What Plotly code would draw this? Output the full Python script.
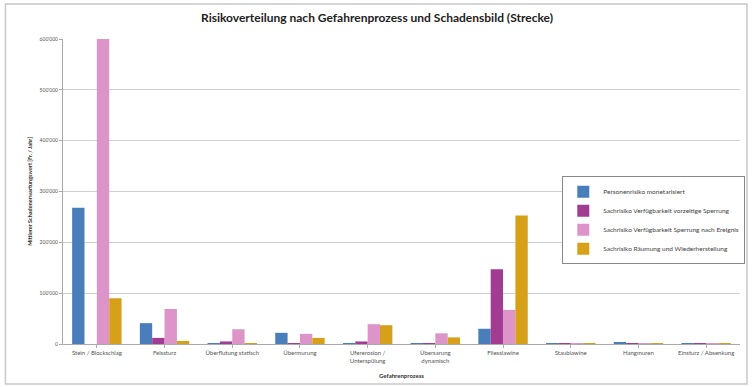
import plotly.graph_objects as go

categories = ["Stein / Blockschlag", "Felssturz", "Überflutung statisch", "Übermurung",
              "Ufererosion /<br>Unterspülung", "Übersarung<br>dynamisch", "Fliesslawine",
              "Staublawine", "Hangmuren", "Einsturz / Absenkung"]

series_names = ["Personenrisiko monetarisiert",
                "Sachrisiko Verfügbarkeit vorzeitige Sperrung",
                "Sachrisiko Verfügbarkeit Sperrung nach Ereignis",
                "Sachrisiko Räumung und Wiederherstellung"]

personen = [268000, 41000, 1000, 22000, 1000, 1000, 30000, 500, 2000, 300]
vorzeitig = [0, 12000, 5000, 500, 5000, 1000, 147000, 300, 500, 200]
nach_ereignis = [600000, 69000, 29000, 20000, 39000, 21000, 67000, 500, 300, 200]
raeumung = [90000, 6000, 500, 12000, 37000, 13000, 253000, 300, 300, 200]

colors = ["#4a7ebb", "#a23b92", "#dc94c9", "#d6a019"]

y_ticks = [0, 100000, 200000, 300000, 400000, 500000, 600000]
y_tick_labels = ["0", "100'000", "200'000", "300'000", "400'000", "500'000", "600'000"]

fig = go.Figure()
for name, vals, col in zip(series_names, [personen, vorzeitig, nach_ereignis, raeumung], colors):
    fig.add_trace(go.Bar(x=categories, y=vals, name=name, marker_color=col,
                         marker_line_width=0))

font_family = "Lato, Open Sans, sans-serif"
fig.update_layout(
    width=754, height=387,
    margin=dict(l=63, r=9, t=39, b=43),
    paper_bgcolor="white", plot_bgcolor="white",
    barmode="group", bargap=0.27, bargroupgap=0.0,
    font=dict(family=font_family, size=6, color="#555555"),
    title=dict(text="<b>Risikoverteilung nach Gefahrenprozess und Schadensbild (Strecke)</b>",
               x=0.5, xanchor="center", y=0.955, yanchor="middle",
               font=dict(size=12, color="#222222", family=font_family)),
    legend=dict(x=0.7375, y=0.55, xanchor="left", yanchor="top",
                bgcolor="white", bordercolor="#888888", borderwidth=1,
                font=dict(size=6.5, color="#444444"), itemwidth=30,
                tracegroupgap=0),
    xaxis=dict(showline=True, linecolor="#aaaaaa", linewidth=1,
               ticks="outside", ticklen=3, tickcolor="#aaaaaa",
               tickfont=dict(size=6, color="#555555"),
               title=dict(text="<b>Gefahrenprozess</b>", standoff=10,
                          font=dict(size=6, color="#333333"))),
    yaxis=dict(range=[0, 600000], tickvals=y_ticks, ticktext=y_tick_labels,
               showgrid=True, gridcolor="#d0d0d0", gridwidth=1,
               showline=True, linecolor="#aaaaaa", ticks="outside", ticklen=3,
               tickcolor="#aaaaaa", zeroline=False,
               tickfont=dict(size=5, color="#555555"),
               title=dict(text="<b>Mittlerer Schadenerwartungswert [Fr. / Jahr]</b>",
                          standoff=6, font=dict(size=5.5, color="#333333"))),
    shapes=[dict(type="rect", xref="paper", yref="paper",
                 x0=-0.085, x1=1.0103, y0=-0.131, y1=1.115,
                 line=dict(color="#c8c8c8", width=1.5), fillcolor="rgba(0,0,0,0)",
                 layer="below")],
)

fig.write_html("out.html")
